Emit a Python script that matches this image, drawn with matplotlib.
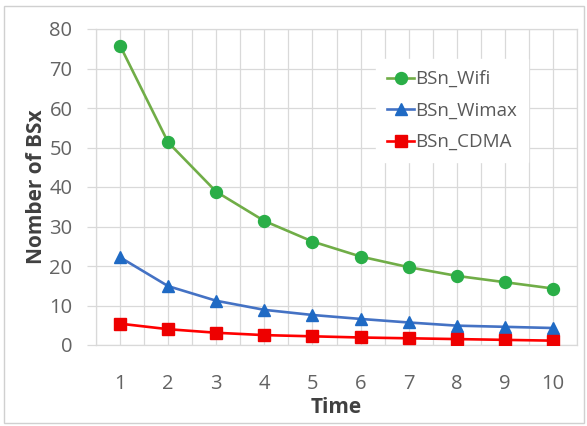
import matplotlib
matplotlib.use("Agg")
import matplotlib.pyplot as plt
from matplotlib.patches import Rectangle

# Data
time = [1, 2, 3, 4, 5, 6, 7, 8, 9, 10]
bsn_wifi = [75.8, 51.3, 38.8, 31.4, 26.2, 22.4, 19.7, 17.5, 15.9, 14.3]
bsn_wimax = [22.2, 14.9, 11.2, 8.9, 7.6, 6.6, 5.7, 4.9, 4.6, 4.3]
bsn_cdma = [5.4, 4.0, 3.1, 2.5, 2.2, 1.9, 1.7, 1.5, 1.3, 1.1]
series_names = ["BSn_Wifi", "BSn_Wimax", "BSn_CDMA"]
y_ticks = [0, 10, 20, 30, 40, 50, 60, 70, 80]

plt.rcParams["font.family"] = ["Open Sans", "DejaVu Sans"]

fig = plt.figure(figsize=(5.87, 4.26), dpi=100)
ax = fig.add_axes([96 / 587, 1 - 345 / 426, 481 / 587, 316 / 426])

grid_c = "#d9d9d9"
ax.plot(time, bsn_wifi, color="#70ad47", lw=1.9, marker="o", ms=8.6,
        mfc="#2aae47", mec="#2aae47", label=series_names[0], zorder=3)
ax.plot(time, bsn_wimax, color="#4472c4", lw=1.9, marker="^", ms=9.0,
        mfc="#1f6ac4", mec="#1f6ac4", label=series_names[1], zorder=3)
ax.plot(time, bsn_cdma, color="#ff0000", lw=1.9, marker="s", ms=9.2,
        mfc="#ee0000", mec="#ee0000", label=series_names[2], zorder=3)

ax.set_xlim(0.5, 10.5)
ax.set_ylim(0, 80)
ax.set_xticks(time)
ax.set_xticks([t + 0.5 for t in [0] + time], minor=True)
ax.set_yticks(y_ticks)

ax.grid(True, which="major", axis="both", color=grid_c, lw=0.9)
ax.grid(True, which="minor", axis="x", color=grid_c, lw=0.9)
ax.set_axisbelow(True)
for s in ax.spines.values():
    s.set_color(grid_c)
    s.set_linewidth(0.9)

ax.tick_params(axis="y", which="major", length=6.5, width=0.9, color=grid_c,
               pad=10.5, labelsize=14.5, labelcolor="#636363")
ax.tick_params(axis="x", which="both", length=0, pad=21,
               labelsize=14.5, labelcolor="#636363")

ax.set_xlabel("Time", fontsize=15, fontweight="bold", color="#404040", labelpad=2)
ax.set_ylabel("Nomber of BSx", fontsize=15, fontweight="bold", color="#404040", labelpad=1.5)

leg = ax.legend(loc="upper right", bbox_to_anchor=(0.918, 0.935), frameon=True,
                fontsize=13.5, handlelength=1.45, handletextpad=0.05,
                labelspacing=0.72, borderpad=0.6, framealpha=1.0, fancybox=False)
leg.get_frame().set_edgecolor("white")
leg.get_frame().set_facecolor("white")
for t in leg.get_texts():
    t.set_color("#595959")

# Outer frame around the chart
fig.patches.append(Rectangle((4 / 587, 3 / 426), 580 / 587, 417 / 426,
                             transform=fig.transFigure, fill=False,
                             edgecolor="#d0d0d0", lw=1.0))

fig.savefig("out.png", dpi=100)
